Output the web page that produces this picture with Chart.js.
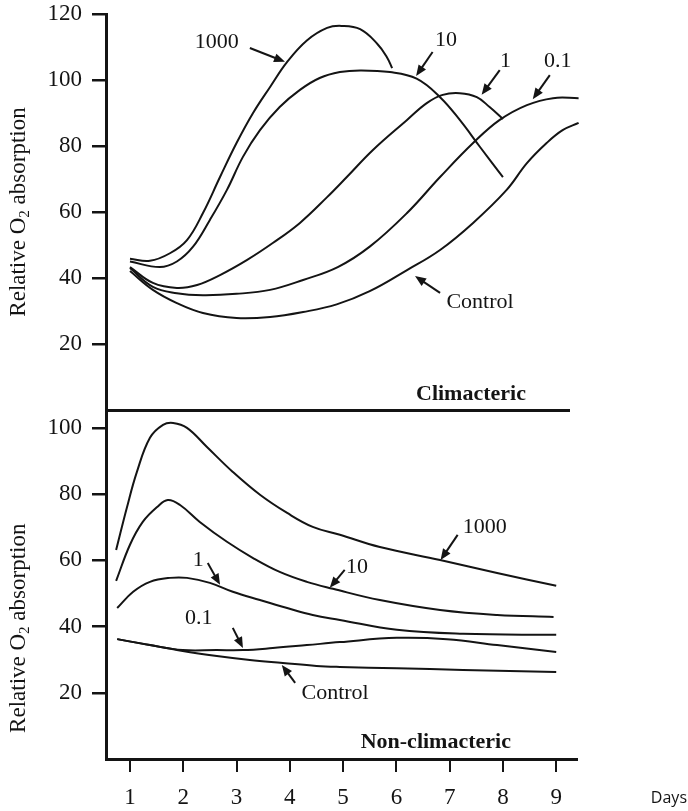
<!DOCTYPE html>
<html>
<head>
<meta charset="utf-8">
<script src="https://cdn.jsdelivr.net/npm/chart.js@4.4.1/dist/chart.umd.min.js"></script>
<style>
  body { margin: 0; background: #fff; }
  #wrap { position: relative; width: 688px; height: 811px; }
  .panel { position: absolute; left: 0; width: 688px; }
  #haut { top: 0; height: 420px; }
  #bas { top: 400px; height: 411px; }
</style>
</head>
<body>
<div id="wrap">
  <div class="panel" id="haut"><canvas id="climChart"></canvas></div>
  <div class="panel" id="bas"><canvas id="nonClimChart"></canvas></div>
</div>
<script>
// Graduations des axes
const dayTicks = [1, 2, 3, 4, 5, 6, 7, 8, 9];
const climTicks = [20, 40, 60, 80, 100, 120];
const nonClimTicks = [20, 40, 60, 80, 100];

// Fruits climactériques (jours / absorption relative)
const clim1000Days = [1.0, 1.375, 1.75, 2.07, 2.37, 2.69, 3.0, 3.31, 3.63, 3.95, 4.32, 4.7, 4.97, 5.32, 5.64, 5.82, 5.92];
const clim1000 = [45.8, 45.2, 47.5, 51.5, 59.7, 70.6, 80.9, 90, 97.9, 105.5, 112, 115.8, 116.4, 115.4, 111, 107, 103.6];
const clim10Days = [1.0, 1.56, 1.88, 2.18, 2.5, 2.82, 3.12, 3.44, 3.81, 4.19, 4.56, 4.94, 5.32, 5.88, 6.38, 6.82, 7.19, 7.57, 8.0];
const clim10 = [45, 43.3, 45, 49.4, 57.6, 66.7, 76.7, 84.8, 91.8, 97, 100.6, 102.4, 102.9, 102.4, 100.4, 94.8, 87.9, 79.7, 70.6];
const clim1Days = [1.0, 1.43, 1.88, 2.26, 2.69, 3.2, 3.68, 4.19, 4.7, 5.07, 5.56, 6.2, 6.57, 6.87, 7.19, 7.51, 7.75, 8.0];
const clim1 = [43.3, 38.5, 37, 37.9, 40.9, 45.5, 50.6, 56.7, 64.5, 70.6, 78.8, 87.9, 93, 95.5, 96, 94.8, 91.8, 88.2];
const clim01Days = [1.0, 1.43, 1.88, 2.37, 3.0, 3.63, 4.25, 4.9, 5.5, 6.2, 6.82, 7.44, 7.94, 8.45, 8.94, 9.42];
const clim01 = [43, 37.3, 35.4, 34.8, 35.2, 36.4, 39.4, 43.3, 49.5, 59.7, 70.6, 80.9, 87.9, 92.4, 94.5, 94.5];
const climControlDays = [1.0, 1.43, 1.88, 2.37, 3.0, 3.63, 4.25, 4.88, 5.5, 6.2, 6.82, 7.44, 8.07, 8.45, 8.82, 9.12, 9.42];
const climControl = [42.1, 36.4, 32.4, 29.4, 27.9, 28.2, 29.7, 32, 36, 42.4, 48.5, 56.7, 66.7, 74.8, 80.9, 84.8, 87];

// Fruits non climactériques
const nc1000Days = [0.74, 0.94, 1.13, 1.375, 1.62, 1.81, 2.07, 2.44, 2.93, 3.44, 3.95, 4.43, 4.94, 5.69, 6.82, 7.89, 9.0];
const nc1000 = [63.1, 75.8, 86.7, 97, 100.9, 101.5, 100, 94.3, 86.7, 79.8, 74.3, 70.1, 67.7, 64, 60.1, 56.2, 52.3];
const nc10Days = [0.74, 1.0, 1.24, 1.51, 1.71, 1.94, 2.31, 2.82, 3.31, 3.81, 4.32, 4.81, 5.69, 6.82, 7.89, 8.95];
const nc10 = [53.8, 64.7, 71.6, 76.1, 78.2, 76.7, 71.6, 65.6, 60.7, 56.5, 53.5, 51.4, 48, 45, 43.5, 42.9];
const nc1Days = [0.76, 1.06, 1.375, 1.75, 2.07, 2.5, 2.93, 3.44, 3.95, 4.43, 4.94, 6.01, 7.25, 9.0];
const nc1 = [45.6, 50.5, 53.5, 54.7, 54.7, 53.2, 50.5, 48, 45.6, 43.5, 42, 39, 37.8, 37.5];
const nc01Days = [0.76, 1.375, 1.99, 2.63, 3.12, 3.68, 4.32, 4.94, 6.01, 6.95, 7.89, 9.0];
const nc01 = [36.2, 34.4, 32.9, 32.9, 32.9, 33.5, 34.4, 35.3, 36.6, 36.2, 34.4, 32.3];
const ncControlDays = [0.76, 1.375, 1.99, 2.63, 3.25, 3.87, 4.5, 4.94, 6.01, 7.25, 9.0];
const ncControl = [36.2, 34.4, 32.6, 31.1, 29.9, 29, 28.1, 27.8, 27.4, 26.9, 26.3];

// Étiquettes et flèches (coordonnées en jours / valeurs)
const climNotes = [
    { text: '1000', at: [2.63, 111.5], arrow: [3.25, 109.7, 3.91, 105.5] },
    { text: '10', at: [6.93, 112.1], arrow: [6.68, 108.5, 6.37, 101.2] },
    { text: '1', at: [8.05, 105.8], arrow: [7.94, 103, 7.6, 95.5] },
    { text: '0.1', at: [9.03, 105.8], arrow: [8.88, 101.5, 8.56, 94.2] },
    { text: 'Control', at: [7.57, 32.7], arrow: [6.82, 35.5, 6.35, 40.6] },
    { text: 'Climacteric', at: [7.4, 4.8], bold: true }
];
const nonClimNotes = [
    { text: '1000', at: [7.66, 70.1], arrow: [7.15, 67.7, 6.83, 60.1] },
    { text: '10', at: [5.26, 58], arrow: [5.03, 57.1, 4.75, 51.7] },
    { text: '1', at: [2.28, 60.1], arrow: [2.46, 59.2, 2.69, 52.6] },
    { text: '0.1', at: [2.29, 42.6], arrow: [2.93, 39.6, 3.12, 33.5] },
    { text: 'Control', at: [4.85, 19.9], arrow: [4.1, 23, 3.85, 28.4] },
    { text: 'Non-climacteric', at: [6.74, 5.1], bold: true }
];

const INK = '#141414';
const SERIF = '"Liberation Serif", "Times New Roman", serif';

function toPoints(days, values) {
    return days.map((d, i) => ({ x: d, y: values[i] }));
}

function drawArrow(ctx, x1, y1, x2, y2) {
    const ang = Math.atan2(y2 - y1, x2 - x1);
    const head = 11, half = 4.5;
    ctx.lineWidth = 2;
    ctx.beginPath();
    ctx.moveTo(x1, y1);
    ctx.lineTo(x2 - Math.cos(ang) * head * 0.7, y2 - Math.sin(ang) * head * 0.7);
    ctx.stroke();
    ctx.beginPath();
    ctx.moveTo(x2, y2);
    ctx.lineTo(x2 - head * Math.cos(ang) + half * Math.sin(ang), y2 - head * Math.sin(ang) - half * Math.cos(ang));
    ctx.lineTo(x2 - head * Math.cos(ang) - half * Math.sin(ang), y2 - head * Math.sin(ang) + half * Math.cos(ang));
    ctx.closePath();
    ctx.fill();
}

// Titre vertical avec indice "2"
function drawYTitle(ctx, cx, cy) {
    const big = '23px ' + SERIF, small = '15px ' + SERIF;
    const p1 = 'Relative O', p2 = '2', p3 = ' absorption';
    ctx.save();
    ctx.translate(cx, cy);
    ctx.rotate(-Math.PI / 2);
    ctx.textAlign = 'left';
    ctx.textBaseline = 'alphabetic';
    ctx.font = big;
    const w1 = ctx.measureText(p1).width, w3 = ctx.measureText(p3).width;
    ctx.font = small;
    const w2 = ctx.measureText(p2).width;
    const start = -(w1 + w2 + w3) / 2;
    ctx.font = big;
    ctx.fillText(p1, start, 7);
    ctx.font = small;
    ctx.fillText(p2, start + w1, 11);
    ctx.font = big;
    ctx.fillText(p3, start + w1 + w2, 7);
    ctx.restore();
}

const notesPlugin = {
    id: 'notes',
    afterDraw(chart, args, opts) {
        const { ctx, scales: { x, y } } = chart;
        ctx.save();
        ctx.fillStyle = INK;
        ctx.strokeStyle = INK;
        ctx.textAlign = 'center';
        ctx.textBaseline = 'middle';
        opts.items.forEach(n => {
            ctx.font = (n.bold ? 'bold ' : '') + '22px ' + SERIF;
            ctx.fillText(n.text, x.getPixelForValue(n.at[0]), y.getPixelForValue(n.at[1]));
            if (n.arrow) {
                drawArrow(ctx,
                    x.getPixelForValue(n.arrow[0]), y.getPixelForValue(n.arrow[1]),
                    x.getPixelForValue(n.arrow[2]), y.getPixelForValue(n.arrow[3]));
            }
        });
        drawYTitle(ctx, 18, y.getPixelForValue(opts.titleAt));
        if (opts.days) {
            ctx.font = '16px "Open Sans", sans-serif';
            ctx.textAlign = 'right';
            ctx.fillText('Days', chart.width - 1, chart.chartArea.bottom + 39);
        }
        ctx.restore();
    }
};

function lineSet(label, days, values) {
    return {
        label: label,
        data: toPoints(days, values),
        borderColor: INK,
        borderWidth: 2,
        pointRadius: 0,
        fill: false,
        tension: 0.4,
        clip: false
    };
}

function yScale(max, ticks) {
    return {
        type: 'linear',
        min: 0,
        max: max,
        afterBuildTicks: s => { s.ticks = ticks.map(v => ({ value: v })); },
        afterFit: s => { s.width = 106; s.paddingTop = 0; s.paddingBottom = 0; },
        grid: { drawOnChartArea: false, drawTicks: true, tickLength: 14, color: INK, lineWidth: 2.5 },
        border: { display: true, color: INK, width: 3 },
        ticks: { color: INK, padding: 10, font: { family: SERIF, size: 23 } }
    };
}

// Panneau du haut : climactérique
new Chart(document.getElementById('climChart'), {
    type: 'line',
    data: {
        datasets: [
            lineSet('1000', clim1000Days, clim1000),
            lineSet('10', clim10Days, clim10),
            lineSet('1', clim1Days, clim1),
            lineSet('0.1', clim01Days, clim01),
            lineSet('Control', climControlDays, climControl)
        ]
    },
    options: {
        responsive: true,
        maintainAspectRatio: false,
        animation: false,
        layout: { padding: { top: 14, right: 119, left: 0, bottom: 0 } },
        plugins: {
            legend: { display: false },
            tooltip: { enabled: false },
            notes: { items: climNotes, titleAt: 60 }
        },
        scales: {
            x: {
                type: 'linear',
                min: 0.55,
                max: 9.24,
                afterFit: s => { s.height = 10; },
                grid: { display: false },
                ticks: { display: false },
                border: { display: true, color: INK, width: 3 }
            },
            y: yScale(120, climTicks)
        }
    },
    plugins: [notesPlugin]
});

// Panneau du bas : non climactérique
new Chart(document.getElementById('nonClimChart'), {
    type: 'line',
    data: {
        datasets: [
            lineSet('1000', nc1000Days, nc1000),
            lineSet('10', nc10Days, nc10),
            lineSet('1', nc1Days, nc1),
            lineSet('0.1', nc01Days, nc01),
            lineSet('Control', ncControlDays, ncControl)
        ]
    },
    options: {
        responsive: true,
        maintainAspectRatio: false,
        animation: false,
        layout: { padding: { top: 10, right: 111, left: 0, bottom: 0 } },
        plugins: {
            legend: { display: false },
            tooltip: { enabled: false },
            notes: { items: nonClimNotes, titleAt: 39.5, days: true }
        },
        scales: {
            x: {
                type: 'linear',
                min: 0.55,
                max: 9.39,
                afterBuildTicks: s => { s.ticks = dayTicks.map(v => ({ value: v })); },
                afterFit: s => { s.height = 52; },
                grid: { drawOnChartArea: false, drawTicks: true, tickLength: 13, color: INK, lineWidth: 2 },
                border: { display: true, color: INK, width: 3 },
                ticks: { color: INK, padding: 12, maxRotation: 0, font: { family: SERIF, size: 23 } }
            },
            y: yScale(105.4, nonClimTicks)
        }
    },
    plugins: [notesPlugin]
});
</script>
</body>
</html>
